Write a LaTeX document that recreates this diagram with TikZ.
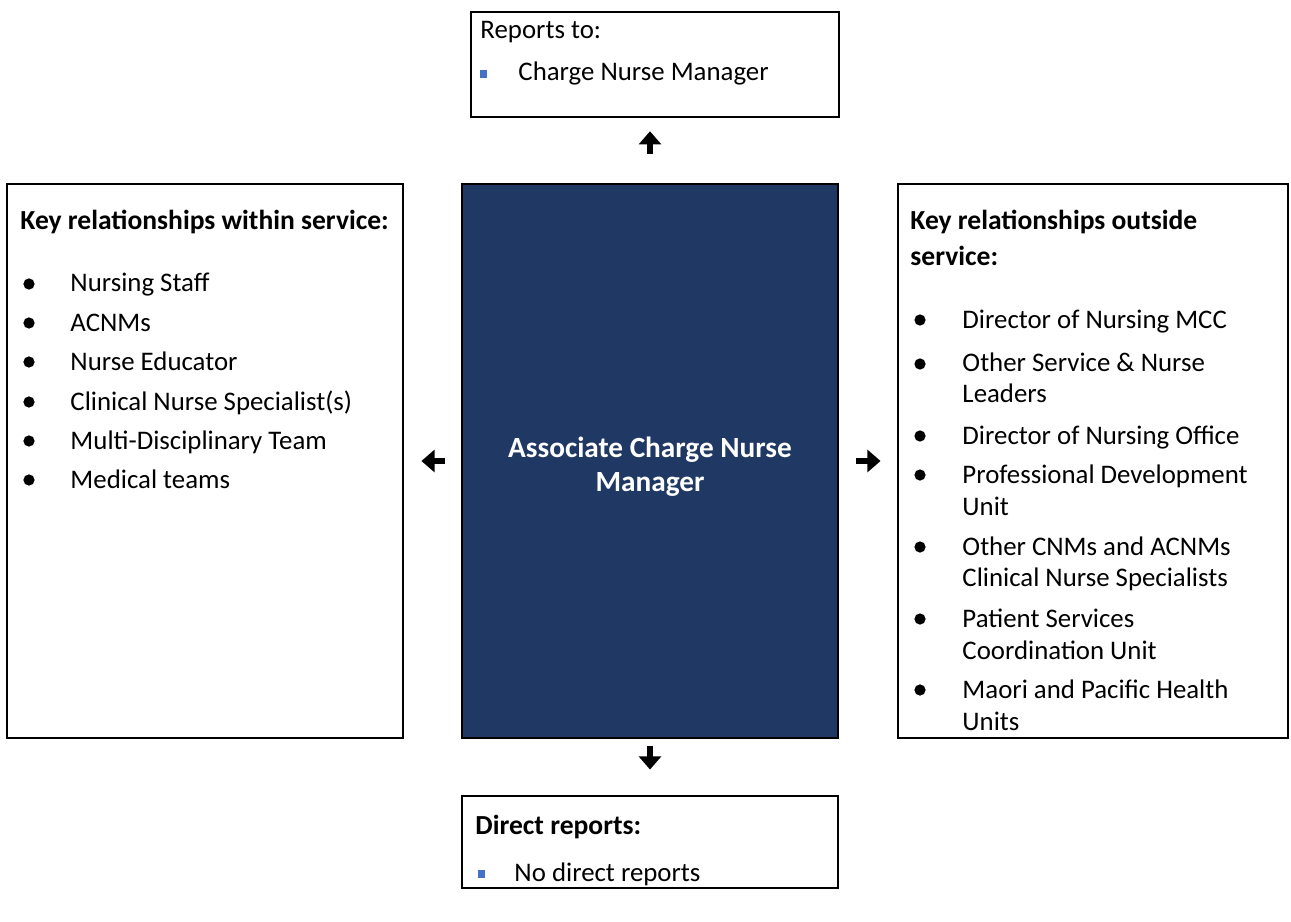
\documentclass[tikz,border=0pt]{standalone}
\usepackage{fontspec}
\setmainfont{Carlito}
\usetikzlibrary{arrows.meta}

\definecolor{acnmblue}{HTML}{203864}
\definecolor{sqblue}{HTML}{4472C4}

\begin{document}
\begin{tikzpicture}[x=0.41pt, y=-0.41pt, font=\fontsize{11}{13.5}\selectfont,
  box/.style={draw, line width=1.1pt, inner sep=0pt},
  line/.style={anchor=base west, inner sep=0pt},
  head/.style={line, font=\fontsize{11.3}{13.5}\selectfont\bfseries},
  link/.style={line width=2.6pt, -{Triangle[length=5.4pt, width=9pt]}}]

\def\px{0.41pt}
\def\dotsize{2.3pt}
\def\sqsize{1.5pt}

\useasboundingbox (0,0) rectangle (1291,922);

% the five boxes
\node [box, minimum width=368*\px, minimum height=105*\px] (reports) at (655,64.5) {};
\node [box, minimum width=396*\px, minimum height=554*\px] (within) at (205,461) {};
\node [box, fill=acnmblue, minimum width=376*\px, minimum height=554*\px] (acnm) at (650,461) {};
\node [box, minimum width=390*\px, minimum height=554*\px] (outside) at (1093,461) {};
\node [box, minimum width=376*\px, minimum height=92*\px] (direct) at (650,842) {};

\node [text=white, align=center, font=\fontsize{12}{13.8}\selectfont\bfseries] (acnmlabel)
  at (650,467) {Associate Charge Nurse\\Manager};

% arrows between the boxes
\draw [link, shorten <=11.9pt, shorten >=5.3pt] (acnm.north) -- (acnm.north |- reports.south);
\draw [link, shorten <=6.6pt, shorten >=7pt] (acnm.west) -- (within.east);
\draw [link, shorten <=7pt, shorten >=6.6pt] (acnm.east) -- (outside.west);
\draw [link, shorten <=2.9pt, shorten >=10.3pt] (acnm.south) -- (direct.north);

% reports to
\node [line] (rep0) at (480,39) {Reports to:};
\fill [sqblue] (483.5,74) +(-\sqsize,-\sqsize) rectangle +(\sqsize,\sqsize);
\node [line] (rep1) at (518,81) {Charge Nurse Manager};

% within service
\node [head] (in0) at (20,230) {Key relationships within service:};
\node [line] (in1) at (70,292) {Nursing Staff};
\node [line] (in2) at (70,331) {ACNMs};
\node [line] (in3) at (70,370) {Nurse Educator};
\node [line] (in4) at (70,410) {Clinical Nurse Specialist(s)};
\node [line] (in5) at (70,449) {Multi-Disciplinary Team};
\node [line] (in6) at (70,488) {Medical teams};
\foreach \y in {284,323,362,402,441,480}
  \fill (29,\y) circle [radius=\dotsize];

% outside service
\node [head] (out0) at (910,230) {Key relationships outside};
\node [head] (out00) at (910,266) {service:};
\node [line] (out1) at (962,328) {Director of Nursing MCC};
\node [line] (out2) at (962,372) {Other Service \& Nurse};
\node [line] (out2b) at (962,403) {Leaders};
\node [line] (out3) at (962,444) {Director of Nursing Office};
\node [line] (out4) at (962,483) {Professional Development};
\node [line] (out4b) at (962,515) {Unit};
\node [line] (out5) at (962,555) {Other CNMs and ACNMs};
\node [line] (out5b) at (962,586) {Clinical Nurse Specialists};
\node [line] (out6) at (962,627) {Patient Services};
\node [line] (out6b) at (962,659) {Coordination Unit};
\node [line] (out7) at (962,698) {Maori and Pacific Health};
\node [line] (out7b) at (962,730) {Units};
\foreach \y in {320,364,436,475,547,619,690}
  \fill (920,\y) circle [radius=\dotsize];

% direct reports
\node [head] (dir0) at (475,834) {Direct reports:};
\fill [sqblue] (481.5,874) +(-\sqsize,-\sqsize) rectangle +(\sqsize,\sqsize);
\node [line] (dir1) at (514,881) {No direct reports};

\end{tikzpicture}
\end{document}
